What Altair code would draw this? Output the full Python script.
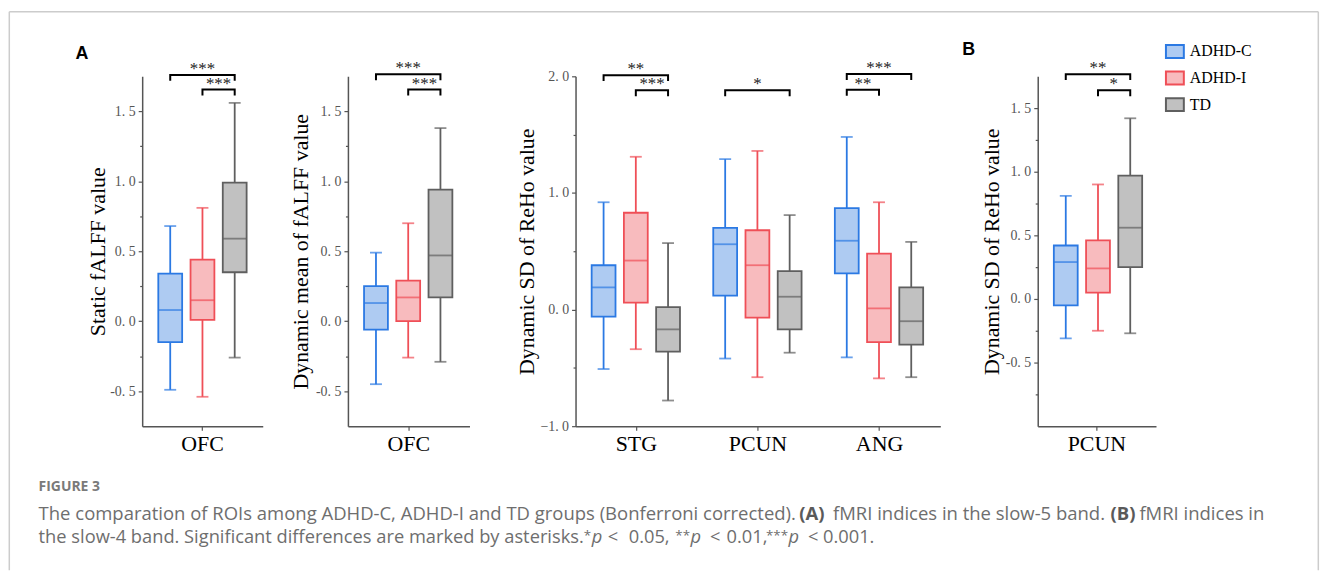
import altair as alt
import pandas as pd
import numpy as np

groups = ["ADHD-C", "ADHD-I", "TD"]
fill_colors = ["#AECBF2", "#F8BBBE", "#C1C1C1"]
stroke_colors = ["#2B79E3", "#EF4F57", "#5F5F5F"]

# Panel A1: Static fALFF (OFC)
a1_rois = ["OFC"]
a1_low = [[-0.49, -0.54, -0.26]]
a1_q1 = [[-0.15, 0.01, 0.35]]
a1_med = [[0.08, 0.15, 0.59]]
a1_q3 = [[0.34, 0.44, 0.99]]
a1_high = [[0.68, 0.81, 1.56]]
a1_sig = [("OFC", "ADHD-C", "TD", 1.76, "***"), ("OFC", "ADHD-I", "TD", 1.655, "***")]

# Panel A2: Dynamic mean of fALFF (OFC)
a2_rois = ["OFC"]
a2_low = [[-0.45, -0.26, -0.29]]
a2_q1 = [[-0.06, 0.00, 0.17]]
a2_med = [[0.13, 0.17, 0.47]]
a2_q3 = [[0.25, 0.29, 0.94]]
a2_high = [[0.49, 0.70, 1.38]]
a2_sig = [("OFC", "ADHD-C", "TD", 1.765, "***"), ("OFC", "ADHD-I", "TD", 1.655, "***")]

# Panel A3: Dynamic SD of ReHo (STG, PCUN, ANG)
a3_rois = ["STG", "PCUN", "ANG"]
a3_low = [[-0.51, -0.34, -0.78], [-0.42, -0.58, -0.37], [-0.41, -0.59, -0.58]]
a3_q1 = [[-0.06, 0.06, -0.36], [0.12, -0.07, -0.17], [0.31, -0.28, -0.30]]
a3_med = [[0.19, 0.42, -0.17], [0.56, 0.38, 0.11], [0.59, 0.01, -0.10]]
a3_q3 = [[0.38, 0.83, 0.02], [0.70, 0.68, 0.33], [0.87, 0.48, 0.19]]
a3_high = [[0.92, 1.31, 0.57], [1.29, 1.36, 0.81], [1.48, 0.92, 0.58]]
a3_sig = [("STG", "ADHD-C", "TD", 2.01, "**"), ("STG", "ADHD-I", "TD", 1.88, "***"),
          ("PCUN", "ADHD-C", "TD", 1.88, "*"),
          ("ANG", "ADHD-C", "TD", 2.02, "***"), ("ANG", "ADHD-C", "ADHD-I", 1.885, "**")]

# Panel B: Dynamic SD of ReHo (PCUN, slow-4)
b_rois = ["PCUN"]
b_low = [[-0.31, -0.25, -0.27]]
b_q1 = [[-0.05, 0.05, 0.25]]
b_med = [[0.29, 0.24, 0.56]]
b_q3 = [[0.42, 0.46, 0.97]]
b_high = [[0.81, 0.90, 1.42]]
b_sig = [("PCUN", "ADHD-C", "TD", 1.767, "**"), ("PCUN", "ADHD-I", "TD", 1.64, "*")]

H = 352
dummy = pd.DataFrame({"_": [0]})
SERIF = "Liberation Serif"
CAP_FONT = "Open Sans"
CAP_SIZE = 18.6
CAP_SIZE2 = 18.4
CAP_COLOR = "#6e6e6e"


def txt(s, x, y, size, font, color, weight="normal", style="normal", align="left", baseline="middle"):
    return alt.Chart(dummy).mark_text(
        text=s, font=font, fontSize=size, fontWeight=weight, fontStyle=style,
        color=color, align=align, baseline=baseline
    ).encode(x=alt.value(x), y=alt.value(y))


def panel(rois, low, q1, med, q3, high, sig, ydom, ystep, lstep, title, title_x, width,
          minus="-", extra=()):
    rows = []
    for i, r in enumerate(rois):
        for j, g in enumerate(groups):
            rows.append(dict(roi=r, group=g, low=low[i][j], q1=q1[i][j], med=med[i][j],
                             q3=q3[i][j], high=high[i][j]))
    df = pd.DataFrame(rows)
    ppu = H / (ydom[1] - ydom[0])
    drop = 6 / ppu
    lines, texts = [], []
    for k, (r, g1, g2, yv, lab) in enumerate(sig):
        for o, (g, v) in enumerate([(g1, yv - drop), (g1, yv), (g2, yv), (g2, yv - drop)]):
            lines.append(dict(bid=k, ord=o, roi=r, group=g, y=v))
        i1, i2 = groups.index(g1), groups.index(g2)
        if i2 - i1 == 2:
            texts.append(dict(roi=r, group=groups[i1 + 1], y=yv, label=lab, half=0))
        else:
            texts.append(dict(roi=r, group=g1, y=yv, label=lab, half=1))
    ldf = pd.DataFrame(lines)
    tdf = pd.DataFrame(texts)

    vals = [float(v) for v in np.round(np.arange(ydom[0], ydom[1] + 1e-9, ystep), 4)]
    if ystep < 0.3:
        vals = [v for v in vals if ydom[0] + 1e-9 < v < ydom[1] - 1e-9]
    cond = f"abs(datum.value/{lstep} - round(datum.value/{lstep})) < 0.001"
    yaxis = alt.Axis(
        values=vals, title=title, titleX=title_x, titleY=H / 2, titleBaseline="middle",
        titleFont=SERIF, titleFontSize=22, titleFontWeight="normal", titleColor="black",
        labelExpr=f"{cond} ? replace(replace(format(datum.value, '.1f'), '.', '. '), '\u2212', '{minus}') : ''",
        labelFont=SERIF, labelFontSize=14, labelColor="#555555", labelPadding=3,
        tickSize={"condition": {"test": cond, "value": 4}, "value": 2.5}, grid=False,
    )
    yscale = alt.Scale(domain=ydom, nice=False, zero=False)
    xaxis = alt.Axis(title=None, labelAngle=0, labelFont=SERIF, labelFontSize=22, labelColor="black",
                     tickSize=4, labelPadding=3, grid=False)
    X = alt.X("roi:N", sort=rois, scale=alt.Scale(domain=rois, paddingInner=0, paddingOuter=0), axis=xaxis)
    XO = alt.XOffset("group:N", sort=groups,
                     scale=alt.Scale(domain=groups, paddingInner=0.26, paddingOuter=0.5))

    def Y(f):
        return alt.Y(f"{f}:Q", scale=yscale, axis=yaxis)

    col = alt.Color("group:N", scale=alt.Scale(domain=groups, range=stroke_colors), legend=None)

    whisk = alt.Chart(df).mark_rule(strokeWidth=1.8).encode(x=X, xOffset=XO, y=Y("low"), y2="high", color=col)
    box = alt.Chart(df).mark_bar(strokeWidth=1.8, opacity=1).encode(
        x=X, xOffset=XO, y=Y("q1"), y2="q3",
        fill=alt.Fill("group:N", scale=alt.Scale(domain=groups, range=fill_colors), legend=None),
        stroke=alt.Stroke("group:N", scale=alt.Scale(domain=groups, range=stroke_colors), legend=None),
    )
    medl = alt.Chart(df).mark_tick(thickness=1.8, size=24).encode(x=X, xOffset=XO, y=Y("med"), color=col)
    cap_lo = alt.Chart(df).mark_tick(thickness=1.8, size=12).encode(x=X, xOffset=XO, y=Y("low"), color=col)
    cap_hi = alt.Chart(df).mark_tick(thickness=1.8, size=12).encode(x=X, xOffset=XO, y=Y("high"), color=col)
    br = alt.Chart(ldf).mark_line(color="black", strokeWidth=2).encode(
        x=X, xOffset=XO, y=Y("y"), detail="bid:N", order="ord:Q")
    step = (width / len(rois)) / (3 - 0.26 + 1.0)
    t0 = alt.Chart(tdf[tdf.half == 0]).mark_text(
        font=SERIF, fontSize=17, color="#222222", baseline="alphabetic", dy=-1
    ).encode(x=X, xOffset=XO, y=Y("y"), text="label:N")
    t1 = alt.Chart(tdf[tdf.half == 1]).mark_text(
        font=SERIF, fontSize=17, color="#222222", baseline="alphabetic", dy=-1, dx=step / 2
    ).encode(x=X, xOffset=XO, y=Y("y"), text="label:N")
    layers = [whisk, box, medl, cap_lo, cap_hi, br, t0]
    if len(tdf[tdf.half == 1]):
        layers.append(t1)
    layers += list(extra)
    return alt.layer(*layers).properties(width=width, height=H)


def spacer(w):
    return alt.Chart(dummy).mark_point(opacity=0).encode(
        x=alt.value(0), y=alt.value(0)).properties(width=w, height=H)


# legend (its own small view to the right of panel B)
leg_df = pd.DataFrame({"group": groups})
leg_y = alt.Y("group:N", sort=groups, axis=None,
              scale=alt.Scale(type="point", domain=groups, range=[-25, 28.5], padding=0))
legend_view = alt.layer(
    alt.Chart(leg_df).mark_point(shape="M-1,-0.72H1V0.72H-1Z", size=324, filled=True,
                                 strokeWidth=2, opacity=1).encode(
        x=alt.value(9), y=leg_y,
        fill=alt.Fill("group:N", scale=alt.Scale(domain=groups, range=fill_colors), legend=None),
        stroke=alt.Stroke("group:N", scale=alt.Scale(domain=groups, range=stroke_colors), legend=None),
    ),
    alt.Chart(leg_df).mark_text(align="left", baseline="middle", font=SERIF, fontSize=16,
                                color="black").encode(x=alt.value(24), y=leg_y, text="group:N"),
).properties(width=100, height=H)

# decorations relative to panel A1 origin (plot-area top-left)
frame_col = "#cccccc"
frame = [
    alt.Chart(dummy).mark_rule(color=frame_col, strokeWidth=1.5).encode(
        x=alt.value(-133.7), y=alt.value(-65), y2=alt.value(497)),
    alt.Chart(dummy).mark_rule(color=frame_col, strokeWidth=1.5).encode(
        x=alt.value(-133.7), x2=alt.value(1183.3), y=alt.value(-65)),
    alt.Chart(dummy).mark_rule(color=frame_col, strokeWidth=1.5).encode(
        x=alt.value(1183.3), y=alt.value(-65), y2=alt.value(497)),
]
L1, L2 = 440, 463.7
STAR = 13.5
caption = [
    txt("FIGURE 3", -104.2, 413.7, 14, CAP_FONT, "#7a7a7a", weight="bold"),
    txt("The comparation of ROIs among ADHD-C, ADHD-I and TD groups (Bonferroni corrected).",
        -104.2, L1, CAP_SIZE, CAP_FONT, CAP_COLOR),
    txt("(A)", 661, L1, CAP_SIZE, CAP_FONT, "#5a5a5a", weight="bold"),
    txt("fMRI indices in the slow-5 band.", 695, L1, CAP_SIZE, CAP_FONT, CAP_COLOR),
    txt("(B)", 974.3, L1, CAP_SIZE, CAP_FONT, "#5a5a5a", weight="bold"),
    txt("fMRI indices in", 1003.3, L1, CAP_SIZE, CAP_FONT, CAP_COLOR),
    txt("the slow-4 band. Significant differences are marked by asterisks.",
        -104.2, L2, CAP_SIZE2, CAP_FONT, CAP_COLOR),
    txt("*", 451.8, L2 - 1, STAR, CAP_FONT, CAP_COLOR, align="right"),
    txt("p", 452.3, L2, CAP_SIZE2, CAP_FONT, CAP_COLOR, style="italic"),
    txt("<", 468.3, L2, CAP_SIZE2, CAP_FONT, CAP_COLOR),
    txt("0.05,", 489.5, L2, CAP_SIZE2, CAP_FONT, CAP_COLOR),
    txt("**", 551.2, L2 - 1, STAR, CAP_FONT, CAP_COLOR, align="right"),
    txt("p", 551.6, L2, CAP_SIZE2, CAP_FONT, CAP_COLOR, style="italic"),
    txt("<", 571.3, L2, CAP_SIZE2, CAP_FONT, CAP_COLOR),
    txt("0.01,", 588, L2, CAP_SIZE2, CAP_FONT, CAP_COLOR),
    txt("***", 649.8, L2 - 1, STAR, CAP_FONT, CAP_COLOR, align="right"),
    txt("p", 650.2, L2, CAP_SIZE2, CAP_FONT, CAP_COLOR, style="italic"),
    txt("<", 670, L2, CAP_SIZE2, CAP_FONT, CAP_COLOR),
    txt("0.001.", 685, L2, CAP_SIZE2, CAP_FONT, CAP_COLOR),
]
letter_a = txt("A", -60.7, -22, 18, "Liberation Sans", "black", weight="bold", align="center")
letter_b = txt("B", -69.5, -26, 18, "Liberation Sans", "black", weight="bold", align="center")

p1 = panel(a1_rois, a1_low, a1_q1, a1_med, a1_q3, a1_high, a1_sig, [-0.75, 1.75], 0.25, 0.5,
           "Static fALFF value", -45, 121.3, extra=[letter_a] + frame + caption)
p2 = panel(a2_rois, a2_low, a2_q1, a2_med, a2_q3, a2_high, a2_sig, [-0.75, 1.75], 0.25, 0.5,
           "Dynamic mean of  fALFF value", -47.7, 122.3)
p3 = panel(a3_rois, a3_low, a3_q1, a3_med, a3_q3, a3_high, a3_sig, [-1.0, 2.0], 0.5, 1.0,
           "Dynamic SD of ReHo value", -49.3, 367, minus="\u2212")
p4 = panel(b_rois, b_low, b_q1, b_med, b_q3, b_high, b_sig, [-1.0, 1.75], 0.25, 0.5,
           "Dynamic SD of ReHo value", -46, 119, extra=[letter_b])

chart = alt.hconcat(
    p1, spacer(84.7), p2, spacer(106), p3, spacer(98), p4, spacer(9.5), legend_view,
    spacing=0, bounds="flush"
).resolve_scale(
    fill="independent", stroke="independent", color="independent"
).properties(
    padding=0
).configure_view(
    stroke="transparent"
).configure_axis(
    domainColor="#555555", domainWidth=1.5, tickColor="#555555", tickWidth=1.2
)

chart.save("out.html", embed_options={"renderer": "svg", "actions": False})
